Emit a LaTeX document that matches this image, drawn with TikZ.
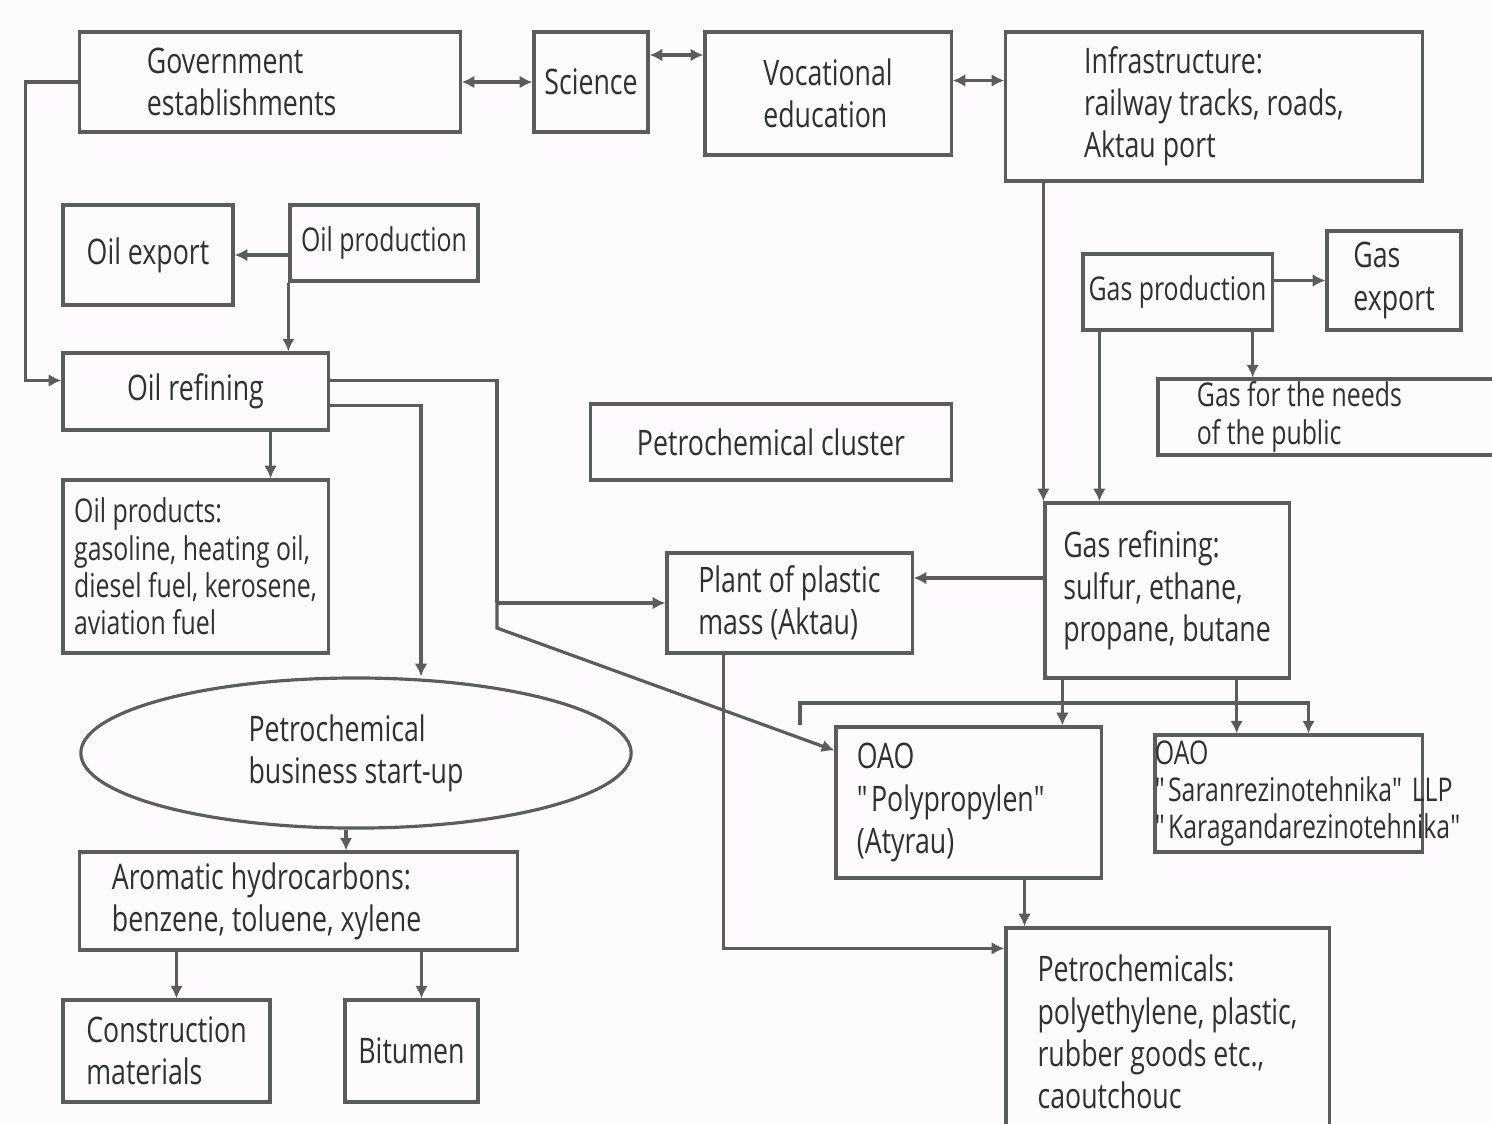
\documentclass[tikz,border=0pt]{standalone}
\usepackage{fontspec}
\setmainfont[FakeStretch=0.76]{Open Sans}
\usepackage{xcolor}
\usepackage{tikz}
\usetikzlibrary{arrows.meta,positioning,shapes.geometric}
\definecolor{linegray}{HTML}{5C5C5C}
\definecolor{textgray}{HTML}{303030}
\definecolor{paper}{HTML}{FDFBFD}

\begin{document}
\begin{tikzpicture}[x=0.01cm, y=-0.01cm, line width=0.9pt, color=linegray,
            >={Latex[length=3.6pt,width=3.6pt]},
            font=\fontsize{10}{12}\selectfont,
            box/.style={draw, rectangle, align=flush left, inner sep=0pt, text=textgray},
            oval/.style={draw, ellipse, align=flush left, inner sep=0pt, text=textgray},
            tight/.style={font=\fontsize{9.3}{10.6}\selectfont}
            ]

            \fill[paper] (0,0) rectangle (1492,1123);
            \useasboundingbox (0,0) rectangle (1492,1123);

            % Nodes with manual coordinates
            \node[box, minimum width=3.8cm, minimum height=1cm, text width=2.46cm] (gov) at (270,82) {Government\\establishments};
            \node[box, minimum width=1.14cm, minimum height=1cm] (sci) at (591,82) {Science};
            \node[box, minimum width=2.46cm, minimum height=1.23cm] (voc) at (828,93.5) {Vocational\\education};
            \node[box, minimum width=4.16cm, minimum height=1.49cm] (infra) at (1214,106.5) {Infrastructure:\\railway tracks, roads,\\Aktau port};
            \node[box, minimum width=1.7cm, minimum height=1cm] (oilexp) at (148,255) {Oil export};
            \node[box, tight, minimum width=1.88cm, minimum height=0.76cm] (oilprod) at (384,243) {Oil production};
            \node[box, minimum width=2.65cm, minimum height=0.77cm] (oilref) at (195.5,391.5) {Oil refining};
            \node[box, tight, minimum width=2.65cm, minimum height=1.73cm] (oilprods) at (195.5,566.5) {Oil products:\\gasoline, heating oil,\\diesel fuel, kerosene,\\aviation fuel};
            \node[box, minimum width=3.6cm, minimum height=0.76cm] (petcl) at (771,442) {Petrochemical cluster};
            \node[box, minimum width=2.45cm, minimum height=1cm] (plant) at (789.5,603) {Plant of plastic\\mass (Aktau)};
            \node[box, tight, minimum width=1.89cm, minimum height=0.76cm] (gasprod) at (1177.5,292) {Gas production};
            \node[box, minimum width=1.34cm, minimum height=0.99cm] (gasexp) at (1394,280.5) {Gas\\export};
            \node[box, tight, minimum width=3.52cm, minimum height=0.76cm, text width=2.74cm] (gasneeds) at (1334,417) {Gas for the needs\\of the public};
            \node[box, minimum width=2.44cm, minimum height=1.75cm] (gasref) at (1167,590.5) {Gas refining:\\sulfur, ethane,\\propane, butane};
            \node[oval, minimum width=5.5cm, minimum height=1.5cm] (startup) at (356,753) {Petrochemical\\business start-up};
            \node[box, minimum width=4.37cm, minimum height=0.98cm, text width=3.73cm] (arom) at (298.5,901) {Aromatic hydrocarbons:\\benzene, toluene, xylene};
            \node[box, minimum width=2.07cm, minimum height=1.02cm] (constr) at (166.5,1051) {Construction\\materials};
            \node[box, minimum width=1.33cm, minimum height=1.02cm] (bitumen) at (411.5,1051) {Bitumen};
            \node[box, minimum width=2.65cm, minimum height=1.51cm, text width=2.23cm] (polyprop) at (968.5,802.5) {OAO\\\textquotedbl Polypropylen\textquotedbl\\(Atyrau)};
            \node[box, tight, minimum width=2.67cm, minimum height=1.17cm, text width=2.67cm] (saran) at (1288.5,793.5) {OAO\\\mbox{\textquotedbl Saranrezinotehnika\textquotedbl{} LLP}\\\mbox{\textquotedbl Karagandarezinotehnika\textquotedbl}};
            \node[box, minimum width=3.23cm, minimum height=2.08cm] (petchem) at (1167.5,1032) {Petrochemicals:\\polyethylene, plastic,\\rubber goods etc.,\\caoutchouc};

            % Helper points
            \coordinate (s1) at ([yshift=0.27cm]sci.east);
            \coordinate (v1) at ([yshift=0.13cm]voc.east);
            \coordinate (r1) at ([yshift=0.11cm]oilref.west);
            \coordinate (r2) at ([xshift=0.75cm]oilref.south);
            \coordinate (r3) at ([yshift=-0.14cm]oilref.east);
            \coordinate (br) at (497,603);
            \coordinate (p1) at ([yshift=0.52cm]polyprop.west);
            \coordinate (p2) at ([xshift=0.56cm]polyprop.south);
            \coordinate (e1) at ([xshift=-0.1cm]startup.south);
            \coordinate (a1) at ([xshift=0.1cm]constr.north);
            \coordinate (a2) at ([xshift=0.1cm]bitumen.north);
            \coordinate (g1) at ([xshift=0.18cm]gasprod.south west);
            \coordinate (g2) at ([xshift=-0.21cm]gasprod.south east);
            \coordinate (q1) at ([yshift=0.125cm]gasref.west);
            \coordinate (q2) at ([xshift=0.19cm]gasref.south west);
            \coordinate (q3) at ([xshift=-0.54cm]gasref.south east);
            \coordinate (h1) at (800,725);
            \coordinate (k1) at ([xshift=-0.66cm]plant.south);
            \coordinate (k2) at ([yshift=-0.22cm]petchem.north west);

            % Arrows
            \draw[<->] (gov.east) -- (sci.west);
            \draw[<->] (s1) -- (s1 -| voc.west);
            \draw[<->] (v1) -- (v1 -| infra.west);
            \draw[->] (gov.west) -- ++(-53,0) |- (r1);
            \draw[->] (oilprod.west |- oilexp) -- (oilexp.east);
            \draw[->] (oilprod.south west) -- (oilprod.south west |- oilref.north);
            \draw[->] (r2) -- (r2 |- oilprods.north);
            \draw (r1 -| oilref.east) -| (br);
            \draw[->] (br) -- (plant.west);
            \draw[->] (br) -- ++(0,25) -- (p1);
            \draw[->] (r3) -| ([xshift=0.65cm]startup.north);
            \draw[->] (e1) -- (e1 |- arom.north);
            \draw[->] (a1 |- arom.south) -- (a1);
            \draw[->] (a2 |- arom.south) -- (a2);
            \draw[->] (infra.south -| gasref.west) -- (gasref.north west);
            \draw[->] (g1) -- (g1 |- gasref.north);
            \draw[->] (gasprod.east |- gasexp) -- (gasexp.west);
            \draw[->] (g2) -- (g2 |- gasneeds.north);
            \draw[->] (q1) -- (q1 -| plant.east);
            \draw[->] (q2) -- (q2 |- polyprop.north);
            \draw[->] (q3) -- (q3 |- saran.north);
            \draw[->] (h1) -- ++(0,-22) -| ([xshift=0.2cm]saran.north);
            \draw[->] (p2) -- (p2 |- petchem.north);
            \draw[->] (k1) |- (k2);
        \end{tikzpicture}
\end{document}
